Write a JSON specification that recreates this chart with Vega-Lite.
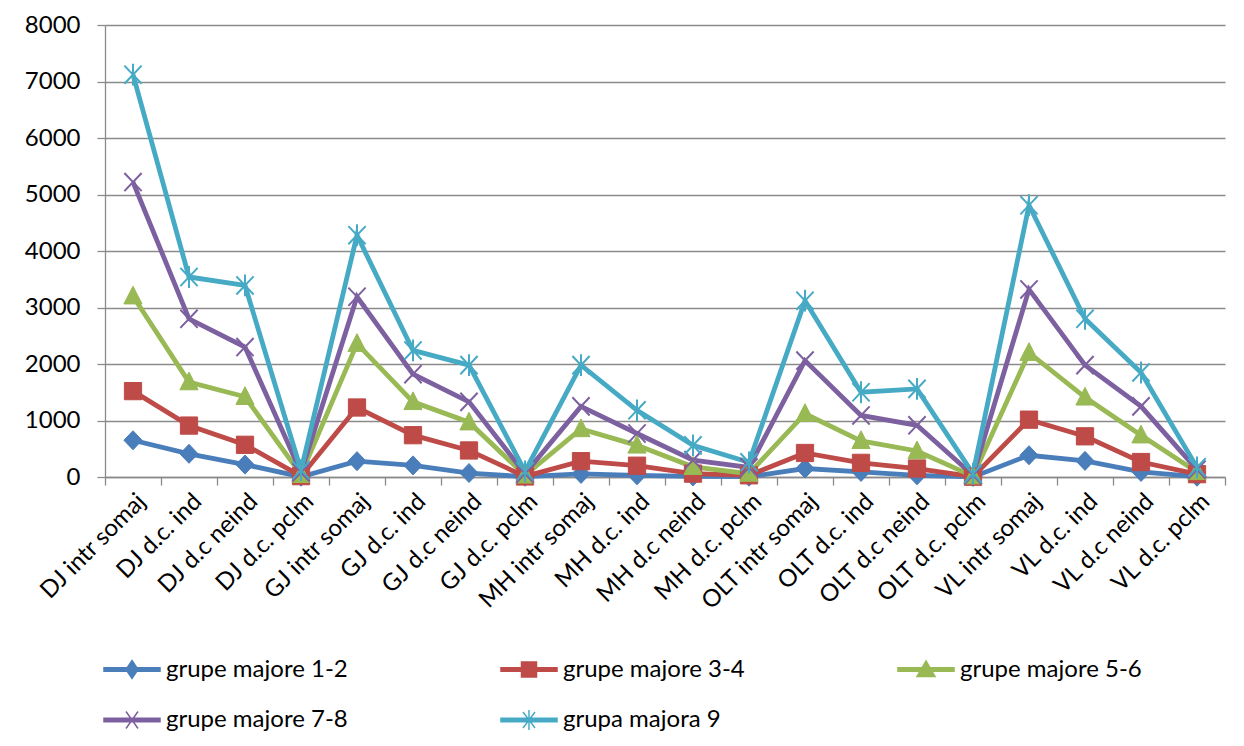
{
"$schema": "https://vega.github.io/schema/vega-lite/v6.json",
"width": 1120, "height": 452,
"autosize": {"type": "none"},
"padding": {"left": 105, "top": 25, "right": 19, "bottom": 269},
"background": "white",
"config": {"font": "Lato", "view": {"stroke": null}},
"data": {"values": [
{"c":"DJ intr somaj","s":"grupe majore 1-2","v":650},
{"c":"DJ d.c. ind","s":"grupe majore 1-2","v":410},
{"c":"DJ d.c neind","s":"grupe majore 1-2","v":220},
{"c":"DJ d.c. pclm","s":"grupe majore 1-2","v":5},
{"c":"GJ intr somaj","s":"grupe majore 1-2","v":280},
{"c":"GJ d.c. ind","s":"grupe majore 1-2","v":205},
{"c":"GJ d.c neind","s":"grupe majore 1-2","v":70},
{"c":"GJ d.c. pclm","s":"grupe majore 1-2","v":5},
{"c":"MH intr somaj","s":"grupe majore 1-2","v":55},
{"c":"MH d.c. ind","s":"grupe majore 1-2","v":30},
{"c":"MH d.c neind","s":"grupe majore 1-2","v":10},
{"c":"MH d.c. pclm","s":"grupe majore 1-2","v":5},
{"c":"OLT intr somaj","s":"grupe majore 1-2","v":150},
{"c":"OLT d.c. ind","s":"grupe majore 1-2","v":90},
{"c":"OLT d.c neind","s":"grupe majore 1-2","v":30},
{"c":"OLT d.c. pclm","s":"grupe majore 1-2","v":2},
{"c":"VL intr somaj","s":"grupe majore 1-2","v":385},
{"c":"VL d.c. ind","s":"grupe majore 1-2","v":285},
{"c":"VL d.c neind","s":"grupe majore 1-2","v":90},
{"c":"VL d.c. pclm","s":"grupe majore 1-2","v":5},
{"c":"DJ intr somaj","s":"grupe majore 3-4","v":1520},
{"c":"DJ d.c. ind","s":"grupe majore 3-4","v":910},
{"c":"DJ d.c neind","s":"grupe majore 3-4","v":570},
{"c":"DJ d.c. pclm","s":"grupe majore 3-4","v":15},
{"c":"GJ intr somaj","s":"grupe majore 3-4","v":1230},
{"c":"GJ d.c. ind","s":"grupe majore 3-4","v":740},
{"c":"GJ d.c neind","s":"grupe majore 3-4","v":470},
{"c":"GJ d.c. pclm","s":"grupe majore 3-4","v":10},
{"c":"MH intr somaj","s":"grupe majore 3-4","v":280},
{"c":"MH d.c. ind","s":"grupe majore 3-4","v":200},
{"c":"MH d.c neind","s":"grupe majore 3-4","v":60},
{"c":"MH d.c. pclm","s":"grupe majore 3-4","v":30},
{"c":"OLT intr somaj","s":"grupe majore 3-4","v":425},
{"c":"OLT d.c. ind","s":"grupe majore 3-4","v":250},
{"c":"OLT d.c neind","s":"grupe majore 3-4","v":150},
{"c":"OLT d.c. pclm","s":"grupe majore 3-4","v":5},
{"c":"VL intr somaj","s":"grupe majore 3-4","v":1015},
{"c":"VL d.c. ind","s":"grupe majore 3-4","v":720},
{"c":"VL d.c neind","s":"grupe majore 3-4","v":265},
{"c":"VL d.c. pclm","s":"grupe majore 3-4","v":50},
{"c":"DJ intr somaj","s":"grupe majore 5-6","v":3200},
{"c":"DJ d.c. ind","s":"grupe majore 5-6","v":1680},
{"c":"DJ d.c neind","s":"grupe majore 5-6","v":1420},
{"c":"DJ d.c. pclm","s":"grupe majore 5-6","v":40},
{"c":"GJ intr somaj","s":"grupe majore 5-6","v":2360},
{"c":"GJ d.c. ind","s":"grupe majore 5-6","v":1330},
{"c":"GJ d.c neind","s":"grupe majore 5-6","v":970},
{"c":"GJ d.c. pclm","s":"grupe majore 5-6","v":30},
{"c":"MH intr somaj","s":"grupe majore 5-6","v":850},
{"c":"MH d.c. ind","s":"grupe majore 5-6","v":560},
{"c":"MH d.c neind","s":"grupe majore 5-6","v":180},
{"c":"MH d.c. pclm","s":"grupe majore 5-6","v":60},
{"c":"OLT intr somaj","s":"grupe majore 5-6","v":1120},
{"c":"OLT d.c. ind","s":"grupe majore 5-6","v":640},
{"c":"OLT d.c neind","s":"grupe majore 5-6","v":460},
{"c":"OLT d.c. pclm","s":"grupe majore 5-6","v":15},
{"c":"VL intr somaj","s":"grupe majore 5-6","v":2200},
{"c":"VL d.c. ind","s":"grupe majore 5-6","v":1410},
{"c":"VL d.c neind","s":"grupe majore 5-6","v":740},
{"c":"VL d.c. pclm","s":"grupe majore 5-6","v":90},
{"c":"DJ intr somaj","s":"grupe majore 7-8","v":5220},
{"c":"DJ d.c. ind","s":"grupe majore 7-8","v":2800},
{"c":"DJ d.c neind","s":"grupe majore 7-8","v":2300},
{"c":"DJ d.c. pclm","s":"grupe majore 7-8","v":80},
{"c":"GJ intr somaj","s":"grupe majore 7-8","v":3190},
{"c":"GJ d.c. ind","s":"grupe majore 7-8","v":1820},
{"c":"GJ d.c neind","s":"grupe majore 7-8","v":1330},
{"c":"GJ d.c. pclm","s":"grupe majore 7-8","v":60},
{"c":"MH intr somaj","s":"grupe majore 7-8","v":1250},
{"c":"MH d.c. ind","s":"grupe majore 7-8","v":770},
{"c":"MH d.c neind","s":"grupe majore 7-8","v":300},
{"c":"MH d.c. pclm","s":"grupe majore 7-8","v":170},
{"c":"OLT intr somaj","s":"grupe majore 7-8","v":2060},
{"c":"OLT d.c. ind","s":"grupe majore 7-8","v":1090},
{"c":"OLT d.c neind","s":"grupe majore 7-8","v":915},
{"c":"OLT d.c. pclm","s":"grupe majore 7-8","v":30},
{"c":"VL intr somaj","s":"grupe majore 7-8","v":3320},
{"c":"VL d.c. ind","s":"grupe majore 7-8","v":1980},
{"c":"VL d.c neind","s":"grupe majore 7-8","v":1250},
{"c":"VL d.c. pclm","s":"grupe majore 7-8","v":130},
{"c":"DJ intr somaj","s":"grupa majora 9","v":7120},
{"c":"DJ d.c. ind","s":"grupa majora 9","v":3540},
{"c":"DJ d.c neind","s":"grupa majora 9","v":3390},
{"c":"DJ d.c. pclm","s":"grupa majora 9","v":120},
{"c":"GJ intr somaj","s":"grupa majora 9","v":4280},
{"c":"GJ d.c. ind","s":"grupa majora 9","v":2240},
{"c":"GJ d.c neind","s":"grupa majora 9","v":1980},
{"c":"GJ d.c. pclm","s":"grupa majora 9","v":100},
{"c":"MH intr somaj","s":"grupa majora 9","v":1980},
{"c":"MH d.c. ind","s":"grupa majora 9","v":1180},
{"c":"MH d.c neind","s":"grupa majora 9","v":560},
{"c":"MH d.c. pclm","s":"grupa majora 9","v":260},
{"c":"OLT intr somaj","s":"grupa majora 9","v":3120},
{"c":"OLT d.c. ind","s":"grupa majora 9","v":1500},
{"c":"OLT d.c neind","s":"grupa majora 9","v":1560},
{"c":"OLT d.c. pclm","s":"grupa majora 9","v":60},
{"c":"VL intr somaj","s":"grupa majora 9","v":4810},
{"c":"VL d.c. ind","s":"grupa majora 9","v":2800},
{"c":"VL d.c neind","s":"grupa majora 9","v":1850},
{"c":"VL d.c. pclm","s":"grupa majora 9","v":170}
]},
"encoding": {
  "x": {"field": "c", "type": "nominal", "sort": null,
        "scale": {"type": "band", "paddingInner": 0, "paddingOuter": 0},
        "axis": {"title": null, "labelAngle": -45, "tickBand": "extent", "labelFontSize": 24, "labelFont": "Lato", "labelColor": "#000000", "tickSize": 8, "tickColor": "#8a8a8a", "tickWidth": 1.3, "domainColor": "#8a8a8a", "domainWidth": 1.3, "grid": false, "labelPadding": 4, "labelDx": -10, "labelLimit": 0}},
  "y": {"field": "v", "type": "quantitative", "scale": {"domain": [0, 8000], "nice": false},
        "axis": {"title": null, "values": [0,1000,2000,3000,4000,5000,6000,7000,8000], "grid": true, "gridColor": "#8a8a8a", "gridWidth": 1.3, "domainColor": "#8a8a8a", "domainWidth": 1.3, "tickColor": "#8a8a8a", "tickWidth": 1.3, "tickSize": 8, "labelFontSize": 24, "labelFont": "Lato", "labelColor": "#000000", "labelPadding": 17, "format": "d"}}
},
"layer": [
  {"mark": {"type": "line", "strokeWidth": 4.8},
   "encoding": {"color": {"field": "s", "type": "nominal",
      "scale": {"domain": ["grupe majore 1-2","grupe majore 3-4","grupe majore 5-6","grupe majore 7-8","grupa majora 9"], "range": ["#4A7EBB","#BE4B48","#98B954","#7D60A0","#46AAC5"]},
      "legend": {"orient": "none", "legendX": 15, "legendY": 632, "direction": "horizontal", "columns": 3, "title": null,
        "labelFontSize": 24, "labelFont": "Lato", "labelColor": "#000000", "labelLimit": 0, "symbolSize": 400, "labelOffset": 22,
        "rowPadding": 25, "columnPadding": 150, "gridAlign": "all",
        "encode": {"symbols": {"update": {
          "shape": {"signal": "datum.value === 'grupe majore 1-2' ? 'M-2.8,-0.18H2.8V0.18H-2.8Z M0,-0.9L0.6,0L0,0.9L-0.6,0Z' : datum.value === 'grupe majore 3-4' ? 'M-2.8,-0.18H2.8V0.18H-2.8Z M-0.75,-0.75H0.75V0.75H-0.75Z' : datum.value === 'grupe majore 5-6' ? 'M-2.8,-0.18H2.8V0.18H-2.8Z M0,-0.85L0.9,0.7L-0.9,0.7Z' : datum.value === 'grupe majore 7-8' ? 'M-2.8,-0.18H2.8V0.18H-2.8Z M-0.6,-0.85L0.6,0.85 M-0.6,0.85L0.6,-0.85' : 'M-2.8,-0.18H2.8V0.18H-2.8Z M-0.6,-0.8L0.6,0.8 M-0.6,0.8L0.6,-0.8 M0,-1V1'"},
          "fill": {"signal": "scale('color', datum.value)"},
          "stroke": {"signal": "scale('color', datum.value)"},
          "strokeWidth": {"value": 1.5},
          "opacity": {"value": 1}
        }}}}}}},
  {"transform": [{"filter": "datum.s === 'grupe majore 1-2'"}],
   "mark": {"type": "point", "filled": true, "size": 330, "strokeWidth": 1, "opacity": 1, "fill": "#4A7EBB", "stroke": "#4A7EBB", "shape": "M0,-1.05L1,0L0,1.05L-1,0Z"}},
  {"transform": [{"filter": "datum.s === 'grupe majore 3-4'"}],
   "mark": {"type": "point", "filled": true, "size": 330, "strokeWidth": 1, "opacity": 1, "fill": "#BE4B48", "stroke": "#BE4B48", "shape": "M-0.95,-0.95H0.95V0.95H-0.95Z"}},
  {"transform": [{"filter": "datum.s === 'grupe majore 5-6'"}],
   "mark": {"type": "point", "filled": true, "size": 330, "strokeWidth": 1, "opacity": 1, "fill": "#98B954", "stroke": "#98B954", "shape": "M0,-1.1L1,0.85L-1,0.85Z"}},
  {"transform": [{"filter": "datum.s === 'grupe majore 7-8'"}],
   "mark": {"type": "point", "filled": false, "size": 330, "strokeWidth": 2, "opacity": 1, "stroke": "#7D60A0", "shape": "M-0.95,-1L0.95,1M-0.95,1L0.95,-1"}},
  {"transform": [{"filter": "datum.s === 'grupa majora 9'"}],
   "mark": {"type": "point", "filled": false, "size": 330, "strokeWidth": 2, "opacity": 1, "stroke": "#46AAC5", "shape": "M-0.95,-1L0.95,1M-0.95,1L0.95,-1M0,-1.2V1.2"}}
]
}
